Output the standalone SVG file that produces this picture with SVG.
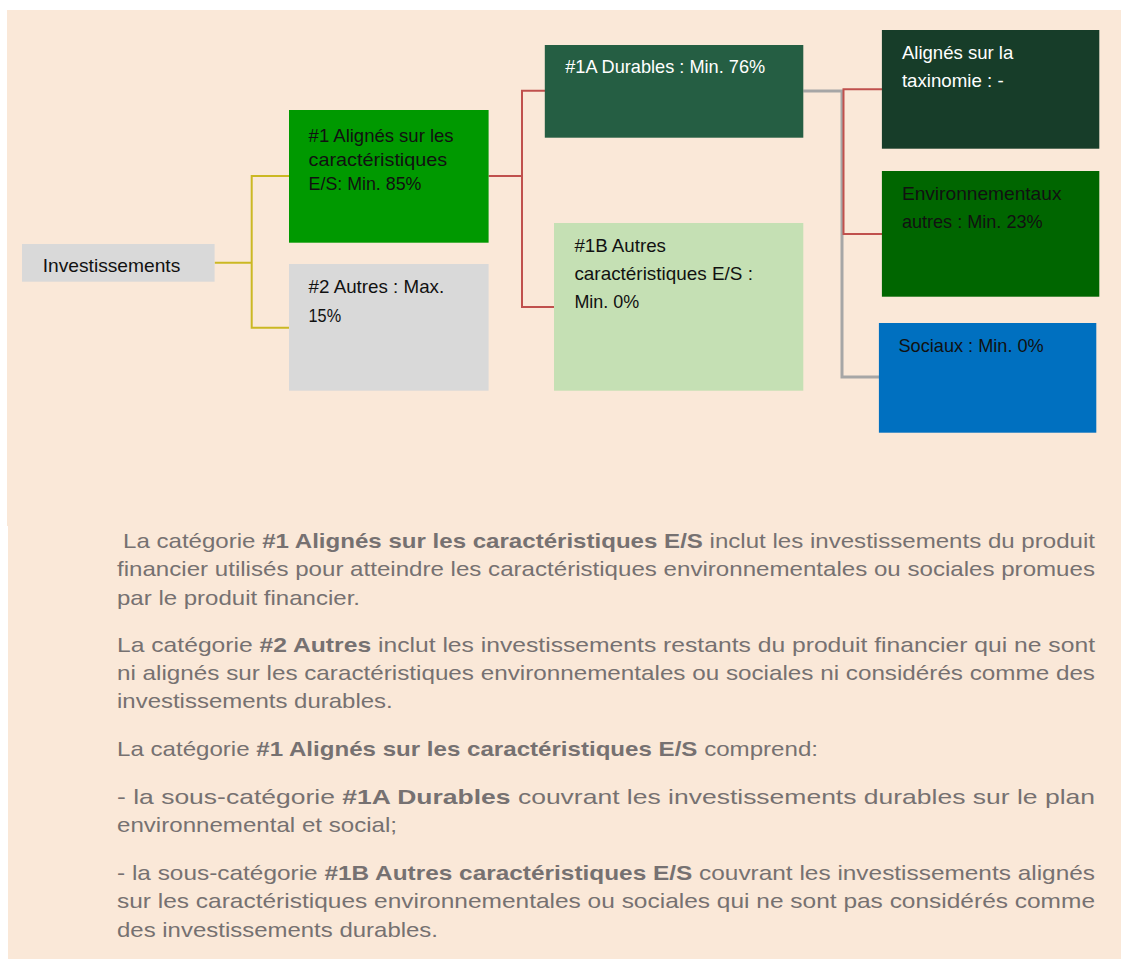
<svg xmlns="http://www.w3.org/2000/svg" width="1121" height="959" viewBox="0 0 1121 959">
<style>
.bg{fill:#fae8d8}
.nt{font-family:"Liberation Sans",Arial,sans-serif;font-size:19px}
.dk{fill:#111111}
.wt{fill:#ffffff}
.body{font-family:"Liberation Sans",Arial,sans-serif;font-size:21px;fill:#767171}
.b{font-weight:bold}
.cn{fill:none}
.yl{stroke:#cbb823;stroke-width:2}
.rd{stroke:#c0504d;stroke-width:2}
.gy{stroke:#a6a6a6;stroke-width:3}
</style>
<rect x="0" y="0" width="1121" height="959" fill="#ffffff"/>
<rect class="bg" x="7" y="10" width="1114" height="516"/>
<rect class="bg" x="8" y="525" width="1113" height="434"/>

<g id="connectors" class="cn">
<path class="yl" d="M214.6 262.7 H251.7 M251.7 176 V327.7 M250.7 176 H289 M250.7 327.7 H289"/>
<path class="rd" d="M488.6 176 H522 M522 90.7 V307 M521 90.7 H545 M521 307 H554"/>
<path class="gy" d="M803.3 91 H842 V377 H879"/>
<path class="rd" d="M843.5 89.3 H882 M843.5 88.3 V234 H882"/>
</g>

<g id="node-investissements">
<rect x="22" y="244" width="192.6" height="37.7" fill="#d9d9d9"/>
<text class="nt dk" x="42.7" y="272.3" textLength="137.6" lengthAdjust="spacingAndGlyphs">Investissements</text>
</g>

<g id="node-1">
<rect x="289" y="110" width="199.6" height="132.7" fill="#009900"/>
<text class="nt dk" x="308.6" y="141.7" textLength="145" lengthAdjust="spacingAndGlyphs">#1 Alignés sur les</text>
<text class="nt dk" x="308.6" y="166" textLength="138.6" lengthAdjust="spacingAndGlyphs">caractéristiques</text>
<text class="nt dk" x="308.6" y="190" textLength="112.8" lengthAdjust="spacingAndGlyphs">E/S: Min. 85%</text>
</g>

<g id="node-2">
<rect x="289" y="264" width="199.6" height="126.7" fill="#d9d9d9"/>
<text class="nt dk" x="308.6" y="293.3" textLength="135.6" lengthAdjust="spacingAndGlyphs">#2 Autres : Max.</text>
<text class="nt dk" x="308.6" y="321.7" textLength="32.5" lengthAdjust="spacingAndGlyphs">15%</text>
</g>

<g id="node-1a">
<rect x="544.8" y="45" width="258.5" height="92.7" fill="#255e43"/>
<text class="nt wt" x="565.2" y="73.3" textLength="200" lengthAdjust="spacingAndGlyphs">#1A Durables : Min. 76%</text>
</g>

<g id="node-1b">
<rect x="554" y="223" width="249.3" height="167.7" fill="#c5e0b4"/>
<text class="nt dk" x="574.4" y="252.3" textLength="91.5" lengthAdjust="spacingAndGlyphs">#1B Autres</text>
<text class="nt dk" x="574.4" y="280" textLength="178.5" lengthAdjust="spacingAndGlyphs">caractéristiques E/S :</text>
<text class="nt dk" x="574.4" y="307.7" textLength="64.8" lengthAdjust="spacingAndGlyphs">Min. 0%</text>
</g>

<g id="node-taxinomie">
<rect x="881.9" y="30" width="217.4" height="118.7" fill="#173d29"/>
<text class="nt wt" x="901.9" y="59.3" textLength="111.4" lengthAdjust="spacingAndGlyphs">Alignés sur la</text>
<text class="nt wt" x="901.9" y="86.7" textLength="101.8" lengthAdjust="spacingAndGlyphs">taxinomie : -</text>
</g>

<g id="node-environnementaux">
<rect x="881.9" y="171" width="217.4" height="125.7" fill="#006600"/>
<text class="nt dk" x="901.9" y="200" textLength="159.6" lengthAdjust="spacingAndGlyphs">Environnementaux</text>
<text class="nt dk" x="901.9" y="228.3" textLength="140.7" lengthAdjust="spacingAndGlyphs">autres : Min. 23%</text>
</g>

<g id="node-sociaux">
<rect x="878.9" y="323" width="217.4" height="109.7" fill="#0070c0"/>
<text class="nt dk" x="898.5" y="352.3" textLength="145.2" lengthAdjust="spacingAndGlyphs">Sociaux : Min. 0%</text>
</g>

<g id="description">
<text class="body" x="123" y="547.5" textLength="972" lengthAdjust="spacingAndGlyphs">La catégorie <tspan class="b">#1 Alignés sur les caractéristiques E/S</tspan> inclut les investissements du produit</text>
<text class="body" x="117" y="576" textLength="978" lengthAdjust="spacingAndGlyphs">financier utilisés pour atteindre les caractéristiques environnementales ou sociales promues</text>
<text class="body" x="117" y="604.5" textLength="243" lengthAdjust="spacingAndGlyphs">par le produit financier.</text>

<text class="body" x="117" y="652" textLength="978" lengthAdjust="spacingAndGlyphs">La catégorie <tspan class="b">#2 Autres</tspan> inclut les investissements restants du produit financier qui ne sont</text>
<text class="body" x="117" y="680" textLength="978" lengthAdjust="spacingAndGlyphs">ni alignés sur les caractéristiques environnementales ou sociales ni considérés comme des</text>
<text class="body" x="117" y="708.3" textLength="275.7" lengthAdjust="spacingAndGlyphs">investissements durables.</text>

<text class="body" x="117" y="756" textLength="701" lengthAdjust="spacingAndGlyphs">La catégorie <tspan class="b">#1 Alignés sur les caractéristiques E/S</tspan> comprend:</text>

<text class="body" x="117" y="803.5" textLength="978" lengthAdjust="spacingAndGlyphs">- la sous-catégorie <tspan class="b">#1A Durables</tspan> couvrant les investissements durables sur le plan</text>
<text class="body" x="117" y="831.7" textLength="280" lengthAdjust="spacingAndGlyphs">environnemental et social;</text>

<text class="body" x="117" y="880" textLength="978" lengthAdjust="spacingAndGlyphs">- la sous-catégorie <tspan class="b">#1B Autres caractéristiques E/S</tspan> couvrant les investissements alignés</text>
<text class="body" x="117" y="908.3" textLength="978" lengthAdjust="spacingAndGlyphs">sur les caractéristiques environnementales ou sociales qui ne sont pas considérés comme</text>
<text class="body" x="117" y="936.7" textLength="321" lengthAdjust="spacingAndGlyphs">des investissements durables.</text>
</g>
</svg>
